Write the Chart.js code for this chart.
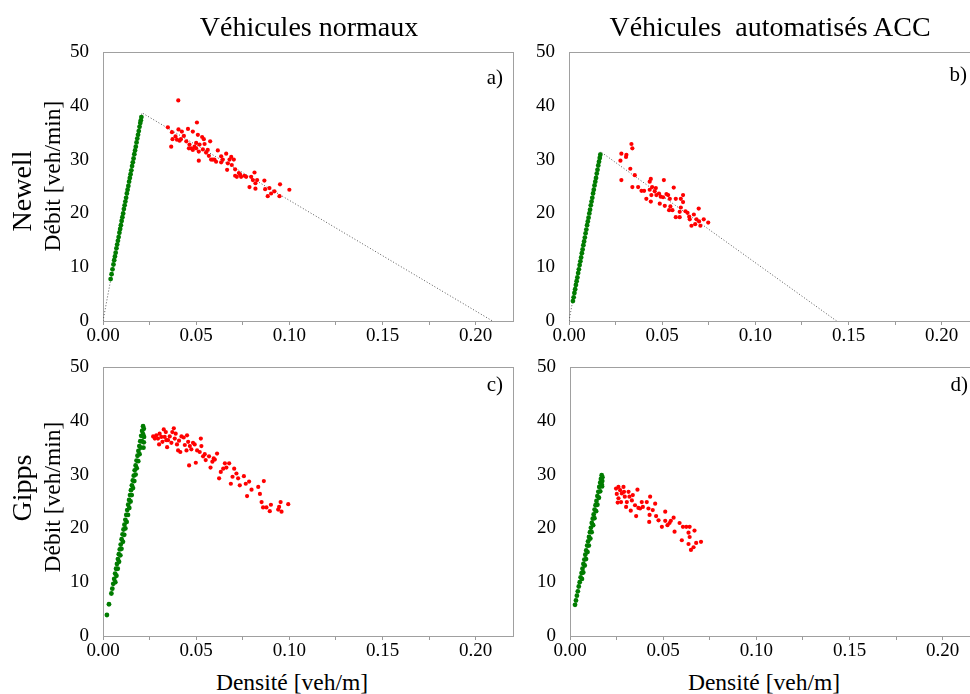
<!DOCTYPE html>
<html lang="fr">
<head>
<meta charset="utf-8">
<title>Diagrammes fondamentaux</title>
<script src="https://cdn.jsdelivr.net/npm/chart.js@4.4.1/dist/chart.umd.min.js"></script>
<style>
  html, body { margin: 0; overflow: hidden; background: #fff; }
  #figure { position: relative; width: 970px; height: 694px; overflow: hidden;
            font-family: "Liberation Serif", "Times New Roman", serif; }
  canvas { position: absolute; }
  .txt { position: absolute; white-space: pre; color: #000; line-height: 1; }
  .ctr { transform: translate(-50%, -50%); }
  .rot { transform: translate(-50%, -50%) rotate(-90deg); }
</style>
</head>
<body>
<div id="figure">
<canvas id="panA" width="520" height="320" style="left:0;top:30px"></canvas>
<canvas id="panB" width="520" height="320" style="left:466px;top:30px"></canvas>
<canvas id="panC" width="520" height="320" style="left:0;top:345px"></canvas>
<canvas id="panD" width="520" height="320" style="left:467px;top:345px"></canvas>

<div class="txt ctr" style="left:309px;top:27px;font-size:28px">Véhicules normaux</div>
<div class="txt ctr" style="left:770px;top:27px;font-size:28px">Véhicules  automatisés ACC</div>
<div class="txt rot" style="left:22px;top:191px;font-size:28px">Newell</div>
<div class="txt rot" style="left:53px;top:176px;font-size:23.5px">Débit [veh/min]</div>
<div class="txt rot" style="left:22px;top:488px;font-size:28px">Gipps</div>
<div class="txt rot" style="left:53px;top:497px;font-size:23.5px">Débit [veh/min]</div>
<div class="txt ctr" style="left:292px;top:683px;font-size:23.5px">Densité [veh/m]</div>
<div class="txt ctr" style="left:764px;top:683px;font-size:23.5px">Densité [veh/m]</div>
</div>

<script>
// a) Newell - véhicules normaux
const aVertK = [0.0041,0.0046,0.0051,0.0056,0.0060,0.0064,0.0068,0.0072,0.0076,0.0080,0.0084,0.0088,0.0092,0.0096,0.0100,0.0104,0.0108,0.0112,0.0116,0.0120,0.0124,0.0128,0.0132,0.0136,0.0140,0.0144,0.0148,0.0152,0.0156,0.0160,0.0164,0.0168,0.0172,0.0176,0.0180,0.0184,0.0188,0.0192,0.0196,0.0200,0.0203,0.0206];
const aVertQ = [7.8,8.7,9.6,10.5,11.3,12.0,12.7,13.5,14.2,14.9,15.6,16.4,17.1,17.8,18.6,19.3,20.0,20.8,21.5,22.2,22.9,23.7,24.4,25.1,25.9,26.6,27.3,28.0,28.8,29.5,30.2,31.0,31.7,32.4,33.2,33.9,34.6,35.3,36.1,36.8,37.3,37.9];
const aRougeK = [0.0404,0.0348,0.0504,0.0366,0.0370,0.0405,0.0423,0.0389,0.0411,0.0373,0.0434,0.0456,0.0482,0.0447,0.0464,0.0473,0.0491,0.0500,0.0509,0.0532,0.0541,0.0545,0.0536,0.0514,0.0514,0.0553,0.0575,0.0568,0.0580,0.0598,0.0616,0.0607,0.0634,0.0634,0.0661,0.0666,0.0679,0.0688,0.0702,0.0691,0.0709,0.0709,0.0729,0.0741,0.0759,0.0786,0.0795,0.0813,0.0804,0.0818,0.0818,0.0866,0.0870,0.0893,0.0884,0.0902,0.0920,0.0950,0.0947,0.1000,0.0461,0.0482,0.0500,0.0518,0.0397,0.0418,0.0562,0.0589,0.0643,0.0670,0.0718,0.0736,0.0827,0.0768];
const aRougeQ = [41.0,36.0,36.9,32.4,35.1,35.6,35.2,34.3,33.5,33.8,34.4,35.7,35.2,33.4,32.8,32.1,32.4,33.1,34.6,34.2,33.8,32.9,31.9,31.5,29.8,31.3,33.4,30.7,30.0,30.0,31.7,29.6,30.6,29.5,31.1,28.1,30.0,30.5,30.0,29.0,28.2,27.0,27.5,26.8,27.0,24.9,26.8,27.6,26.2,25.6,24.6,26.1,24.5,24.7,23.2,23.7,24.1,25.4,23.2,24.4,32.1,31.8,32.1,32.8,33.7,33.8,31.8,30.0,30.0,29.3,26.8,27.2,26.2,26.8];
const aLigneK = [0, 0.0209, 0.209];
const aLigneQ = [0, 38.7, 0];

// b) Newell - véhicules ACC
const bVertK = [0.0021,0.0025,0.0029,0.0033,0.0037,0.0041,0.0045,0.0049,0.0053,0.0057,0.0061,0.0065,0.0069,0.0073,0.0077,0.0081,0.0085,0.0089,0.0093,0.0097,0.0101,0.0105,0.0109,0.0113,0.0117,0.0121,0.0125,0.0129,0.0133,0.0137,0.0141,0.0145,0.0149,0.0153,0.0157,0.0161,0.0165,0.0168];
const bVertQ = [3.7,4.4,5.2,5.9,6.7,7.4,8.1,8.9,9.6,10.4,11.1,11.8,12.6,13.3,14.1,14.8,15.5,16.3,17.0,17.8,18.5,19.2,20.0,20.7,21.5,22.2,22.9,23.7,24.4,25.2,25.9,26.6,27.4,28.1,28.9,29.6,30.3,30.9];
const bRougeK = [0.0335,0.0340,0.0281,0.0308,0.0306,0.0276,0.0329,0.0353,0.0281,0.0340,0.0371,0.0389,0.0403,0.0415,0.0433,0.0439,0.0433,0.0446,0.0442,0.0439,0.0460,0.0466,0.0469,0.0483,0.0487,0.0492,0.0509,0.0505,0.0514,0.0523,0.0532,0.0541,0.0544,0.0537,0.0562,0.0555,0.0573,0.0573,0.0594,0.0600,0.0600,0.0612,0.0612,0.0594,0.0625,0.0636,0.0645,0.0648,0.0657,0.0670,0.0677,0.0684,0.0696,0.0698,0.0705,0.0723,0.0747];
const bRougeQ = [32.9,32.1,31.1,30.9,30.5,29.8,28.3,27.1,26.2,24.9,24.9,24.2,24.2,22.7,24.4,26.4,25.9,24.9,23.4,22.2,24.1,24.7,23.4,23.7,21.8,23.1,26.2,23.0,21.4,23.6,23.4,22.7,21.3,20.6,24.8,20.6,19.3,22.7,19.3,22.7,21.1,23.4,22.1,20.3,20.4,20.1,19.4,18.9,17.7,19.8,18.0,18.9,20.9,18.5,17.7,18.9,18.3];
const bLigneK = [0, 0.0168, 0.1436];
const bLigneQ = [0, 31.5, 0];

// c) Gipps - véhicules normaux
const cVertK = [0.0021,0.0032,0.0045,0.0050,0.0055,0.0060,0.0065,0.0070,0.0075,0.0080,0.0085,0.0090,0.0095,0.0100,0.0105,0.0110,0.0115,0.0120,0.0125,0.0130,0.0135,0.0140,0.0145,0.0150,0.0155,0.0160,0.0165,0.0170,0.0175,0.0180,0.0185,0.0190,0.0195,0.0200,0.0205,0.0210,0.0215,
                0.0066,0.0079,0.0093,0.0107,0.0120,0.0134,0.0148,0.0161,0.0175,0.0189,0.0202,0.0215,0.0219,0.0220,0.0219,0.0217,
                0.0072,0.0086,0.0099,0.0114,0.0127,0.0141,0.0154,0.0168,0.0181,0.0196,0.0209];
const cVertQ = [3.9,5.9,7.9,8.8,9.7,10.6,11.6,12.5,13.4,14.3,15.2,16.1,17.0,18.0,18.9,19.8,20.7,21.6,22.5,23.4,24.4,25.3,26.2,27.1,28.0,28.9,29.8,30.8,31.7,32.6,33.5,34.4,35.3,36.2,37.2,38.1,39.0,
                10.0,12.5,15.0,17.5,20.0,22.5,25.0,27.5,30.0,32.5,35.0,37.5,38.5,37.0,36.0,35.0,
                11.2,13.8,16.2,18.8,21.2,23.8,26.2,28.8,31.2,33.8,36.2];
const cRougeK = [0.0269,0.0286,0.0295,0.0304,0.0313,0.0326,0.0337,0.0331,0.0319,0.0301,0.0349,0.0344,0.0358,0.0367,0.0380,0.0390,0.0385,0.0397,0.0408,0.0415,0.0433,0.0439,0.0451,0.0457,0.0448,0.0466,0.0474,0.0492,0.0498,0.0462,0.0505,0.0525,0.0528,0.0519,0.0537,0.0546,0.0551,0.0569,0.0577,0.0587,0.0600,0.0612,0.0594,0.0623,0.0632,0.0645,0.0654,0.0662,0.0677,0.0686,0.0695,0.0704,0.0716,0.0725,0.0734,0.0756,0.0766,0.0773,0.0784,0.0797,0.0833,0.0842,0.0851,0.0863,0.0859,0.0877,0.0895,0.0901,0.0940,0.0953,0.0958,0.0994,0.0945,0.0278,0.0340,0.0372,0.0421,0.0403,0.0483];
const cRougeQ = [37.1,37.3,36.7,37.6,37.0,38.4,37.9,37.0,36.1,35.6,36.4,35.1,37.1,35.9,38.6,37.6,36.7,35.6,36.3,34.2,36.9,35.5,37.3,36.1,34.5,35.3,34.7,35.6,32.2,31.7,34.5,36.7,35.3,34.2,33.4,33.8,32.7,33.4,31.3,32.4,32.8,33.9,33.0,29.3,30.5,31.1,32.1,31.3,32.1,28.3,29.6,31.1,30.2,29.3,28.0,29.7,28.3,26.0,28.7,27.2,27.7,26.4,24.9,28.8,23.9,23.9,23.2,24.4,23.5,24.9,23.1,24.5,24.0,36.7,36.4,37.9,37.1,34.5,35.9];

// d) Gipps - véhicules ACC
const dVertK = [0.0027,0.0032,0.0037,0.0042,0.0047,0.0052,0.0057,0.0062,0.0067,0.0072,0.0077,0.0082,0.0087,0.0092,0.0097,0.0102,0.0107,0.0112,0.0117,0.0122,0.0127,0.0132,0.0137,0.0142,0.0147,0.0152,0.0157,0.0162,0.0166,0.0170,
                0.0064,0.0079,0.0094,0.0109,0.0124,0.0140,0.0155,0.0170,0.0174,0.0173,0.0172,
                0.0071,0.0086,0.0101,0.0116,0.0131,0.0147,0.0162];
const dVertQ = [5.8,6.6,7.5,8.3,9.2,10.0,10.9,11.7,12.5,13.4,14.2,15.1,15.9,16.8,17.6,18.4,19.3,20.1,21.0,21.8,22.6,23.5,24.3,25.1,26.0,26.8,27.7,28.5,29.2,29.9,
                10.6,13.1,15.6,18.1,20.6,23.2,25.7,28.2,29.5,28.8,27.8,
                11.8,14.3,16.8,19.3,21.9,24.4,26.9];
const dRougeK = [0.0247,0.0260,0.0269,0.0251,0.0278,0.0287,0.0290,0.0260,0.0256,0.0274,0.0294,0.0305,0.0314,0.0319,0.0332,0.0337,0.0301,0.0326,0.0349,0.0355,0.0362,0.0367,0.0376,0.0391,0.0385,0.0412,0.0421,0.0427,0.0425,0.0430,0.0444,0.0457,0.0462,0.0475,0.0493,0.0511,0.0511,0.0523,0.0534,0.0541,0.0556,0.0561,0.0588,0.0600,0.0606,0.0624,0.0636,0.0642,0.0636,0.0649,0.0663,0.0668,0.0677,0.0703,0.0642];
const dRougeQ = [27.4,27.7,27.1,26.4,26.5,27.7,26.8,25.6,24.8,24.9,25.9,24.9,26.8,25.9,25.2,26.2,24.0,23.3,24.3,22.3,27.2,23.8,23.7,24.0,24.9,24.9,23.7,22.5,21.2,25.9,23.4,24.6,22.3,21.5,20.3,23.1,21.4,20.6,21.0,21.4,22.0,19.4,21.0,17.8,20.3,20.3,19.2,18.4,17.1,16.0,16.5,19.6,17.3,17.5,20.3];

const fontTicks = { family: '"Liberation Serif", "Times New Roman", serif', size: 19 };

// Cadre gris autour de la zone de tracé + lettre du panneau
const cadre = {
  id: 'cadre',
  beforeDatasetsDraw(chart) {
    const { ctx, chartArea: a } = chart;
    ctx.save();
    ctx.strokeStyle = '#a0a0a0';
    ctx.lineWidth = 1;
    ctx.strokeRect(Math.round(a.left) + 0.5, Math.round(a.top) + 0.5,
                   Math.round(a.right - a.left), Math.round(a.bottom - a.top));
    ctx.restore();
  },
  afterDraw(chart, args, opts) {
    const { ctx, chartArea: a } = chart;
    ctx.save();
    ctx.font = '21px "Liberation Serif", serif';
    ctx.fillStyle = '#000';
    ctx.textAlign = 'right';
    ctx.textBaseline = 'middle';
    ctx.fillText(opts.lettre, a.right - opts.dx, a.top + opts.dy);
    ctx.restore();
  }
};

function points(ks, qs) {
  return ks.map((k, i) => ({ x: k, y: qs[i] }));
}

function creerPanneau(id, vertK, vertQ, rougeK, rougeQ, ligneK, ligneQ, lettre, dx, dy) {
  const datasets = [{
    label: 'Congestion',
    data: points(rougeK, rougeQ),
    backgroundColor: '#ff0000',
    pointRadius: 2.1,
    borderWidth: 0
  }, {
    label: 'Fluide',
    data: points(vertK, vertQ),
    backgroundColor: '#007c00',
    pointRadius: 2.4,
    borderWidth: 0
  }];
  if (ligneK) {
    datasets.push({
      label: 'Diagramme triangulaire',
      data: points(ligneK, ligneQ),
      showLine: true,
      pointRadius: 0,
      borderColor: '#555555',
      borderWidth: 1,
      borderDash: [1, 2]
    });
  }

  new Chart(document.getElementById(id), {
    type: 'scatter',
    data: { datasets },
    options: {
      responsive: false,
      animation: false,
      events: [],
      layout: { padding: { top: 22, right: 7, left: 0, bottom: 0 } },
      plugins: {
        legend: { display: false },
        tooltip: { enabled: false },
        cadre: { lettre, dx, dy }
      },
      scales: {
        x: {
          type: 'linear',
          min: 0,
          max: 0.22,
          afterFit: s => { s.height = 29; },
          border: { display: false },
          grid: { drawOnChartArea: false, drawTicks: true, tickLength: 4, color: '#9a9a9a' },
          ticks: {
            stepSize: 0.025,
            includeBounds: false,
            autoSkip: false,
            maxRotation: 0,
            padding: 0,
            color: '#000',
            font: fontTicks,
            callback: (v, i) => (i % 2 === 0 ? v.toFixed(2) : '')
          }
        },
        y: {
          min: 0,
          max: 50,
          afterFit: s => { s.width = 103; },
          border: { display: false },
          grid: { display: false },
          ticks: { stepSize: 10, padding: 6, color: '#000', font: fontTicks }
        }
      }
    },
    plugins: [cadre]
  });
}

creerPanneau('panA', aVertK, aVertQ, aRougeK, aRougeQ, aLigneK, aLigneQ, 'a)', 10, 26);
creerPanneau('panB', bVertK, bVertQ, bRougeK, bRougeQ, bLigneK, bLigneQ, 'b)', 12, 23);
creerPanneau('panC', cVertK, cVertQ, cRougeK, cRougeQ, null, null, 'c)', 10, 18);
creerPanneau('panD', dVertK, dVertQ, dRougeK, dRougeQ, null, null, 'd)', 12, 18);
</script>
</body>
</html>
